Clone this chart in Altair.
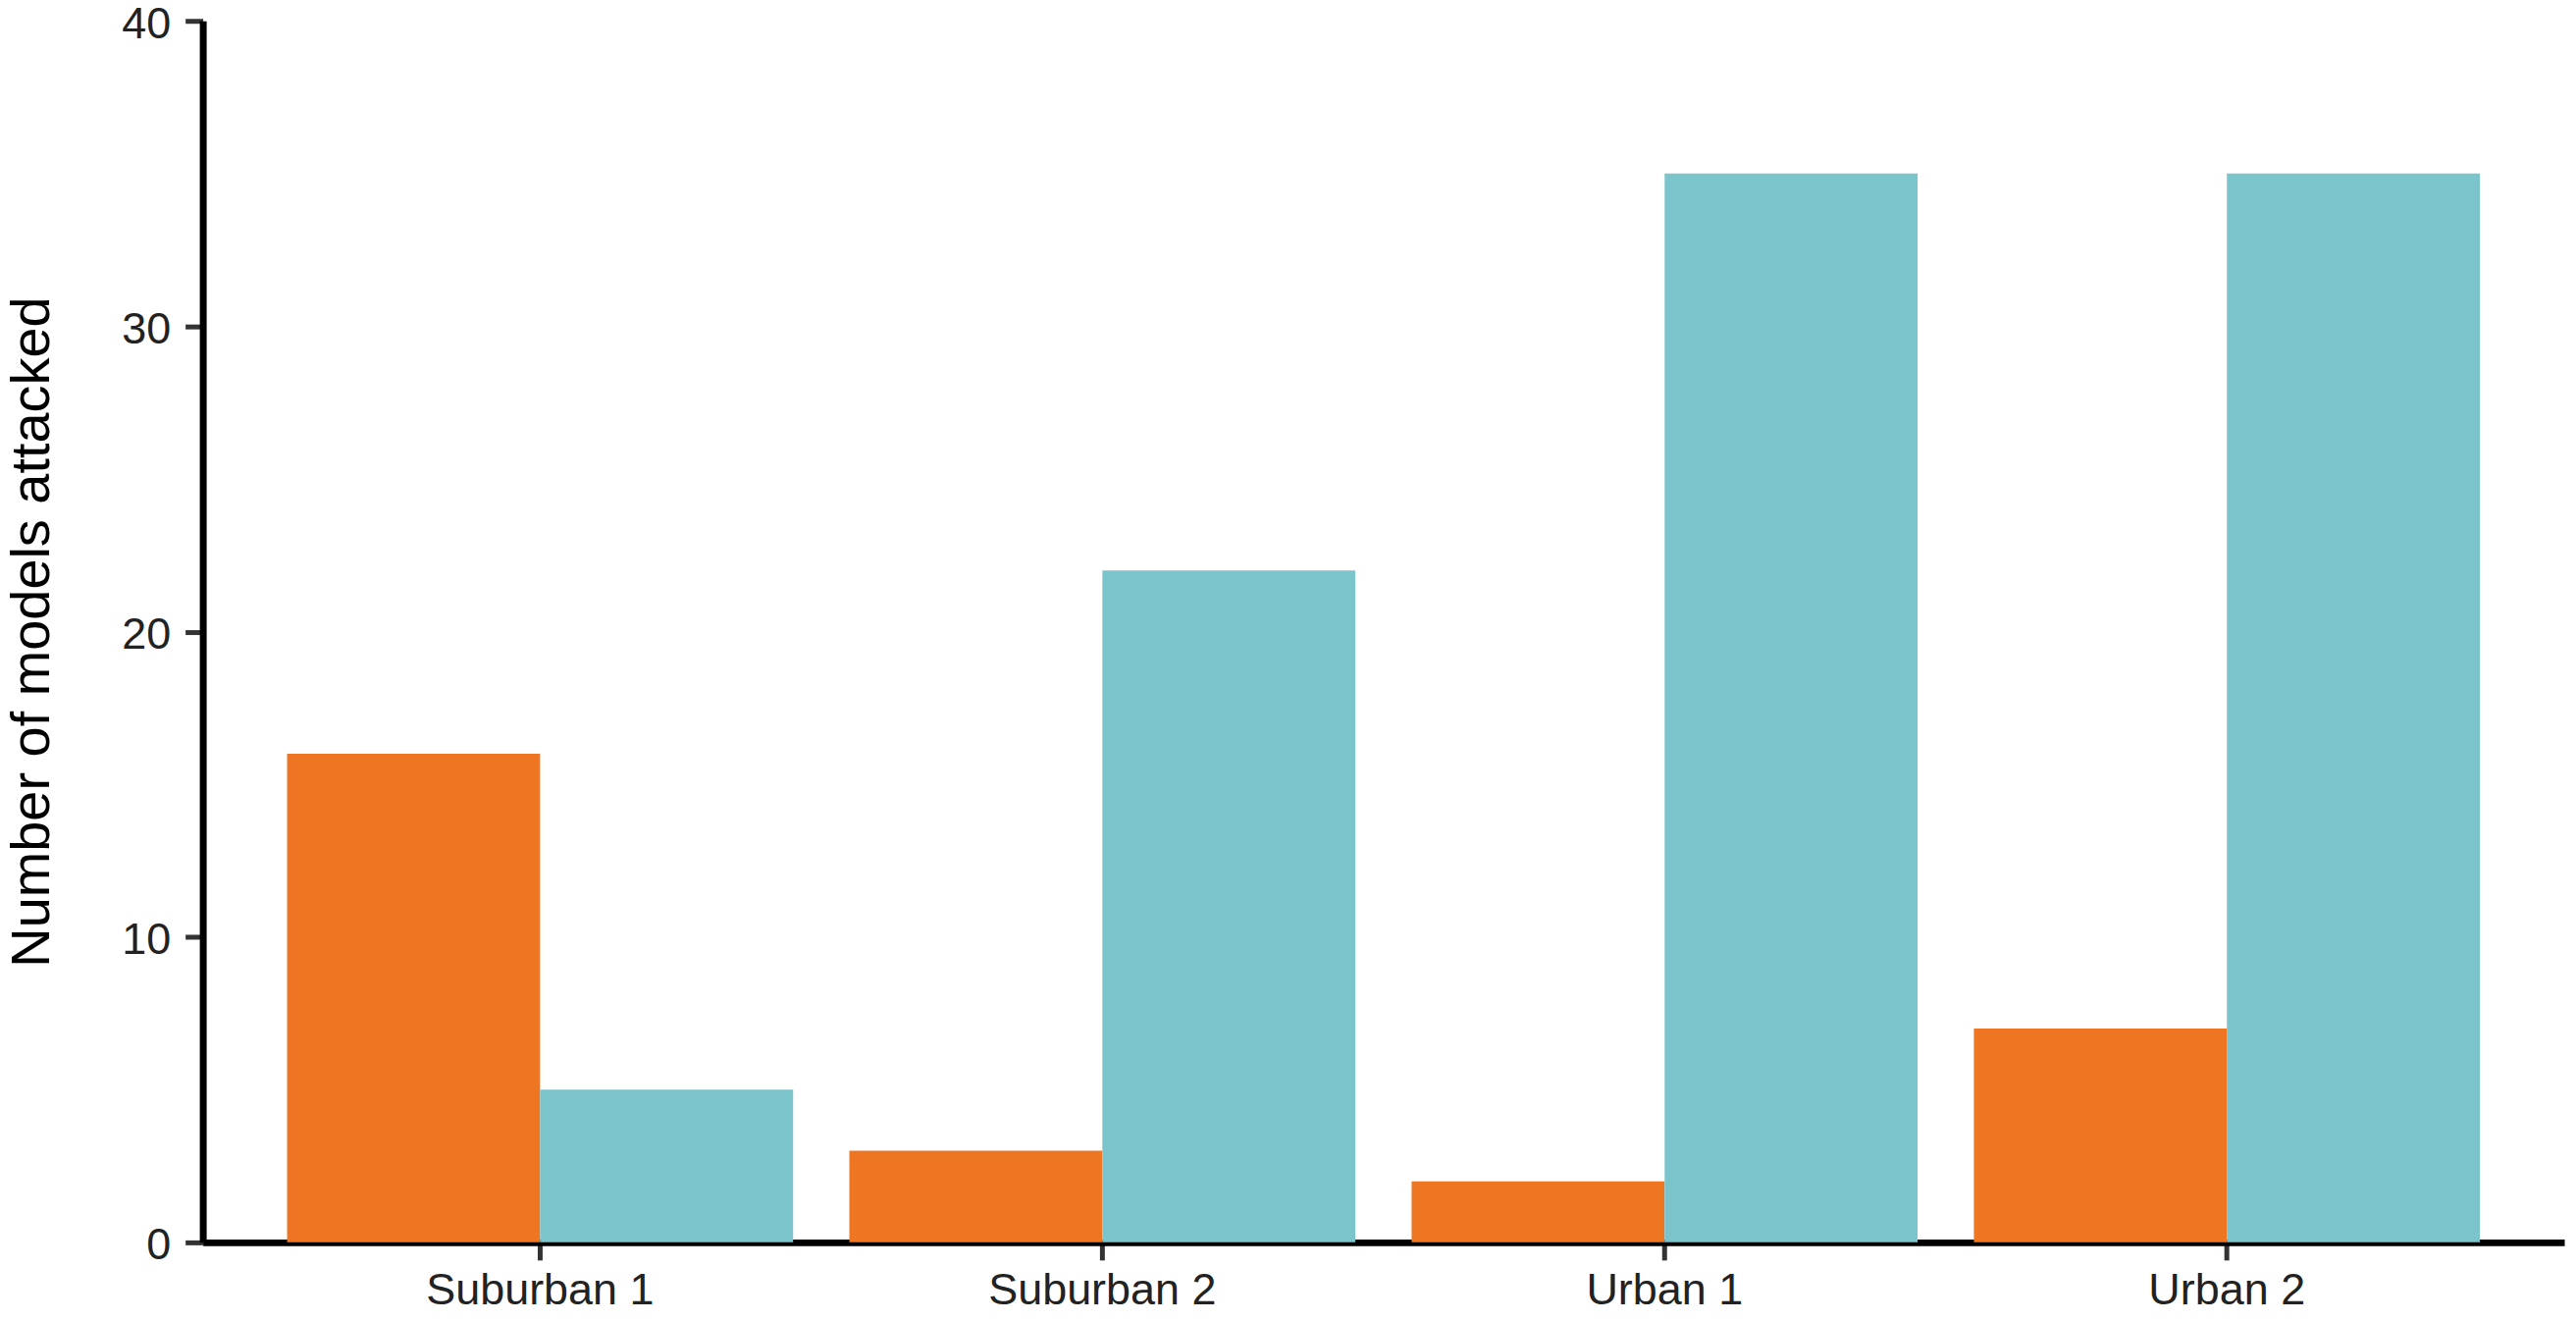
import altair as alt
import pandas as pd

categories = ["Suburban 1", "Suburban 2", "Urban 1", "Urban 2"]
series = ["Group A", "Group B"]
values_a = [16, 3, 2, 7]
values_b = [5, 22, 35, 35]
colors = ["#EE7622", "#7BC4CC"]
y_ticks = [0, 10, 20, 30, 40]

rows = []
for c, a, b in zip(categories, values_a, values_b):
    rows.append({"site": c, "group": series[0], "count": a})
    rows.append({"site": c, "group": series[1], "count": b})
df = pd.DataFrame(rows)

FONT = "Liberation Sans"

chart = alt.Chart(df).mark_bar().encode(
    x=alt.X("site:N", sort=categories,
            scale=alt.Scale(paddingInner=0.1, paddingOuter=0.15),
            axis=alt.Axis(title=None, labelAngle=0, labelFont=FONT, labelFontSize=45,
                          labelColor="#222222", labelPadding=9, labelLimit=0,
                          domainColor="#000000", domainWidth=7,
                          tickColor="#333333", tickWidth=5, tickSize=18)),
    xOffset=alt.XOffset("group:N", sort=series, scale=alt.Scale(paddingInner=0, paddingOuter=0)),
    y=alt.Y("count:Q", scale=alt.Scale(domain=[0, 40], nice=False),
            axis=alt.Axis(title="Number of models attacked", values=y_ticks,
                          titleFont=FONT, titleFontSize=56, titleFontWeight="normal",
                          titleColor="#000000", titleX=-157, titleY=623.5,
                          titleBaseline="alphabetic", titleAngle=270,
                          labelFont=FONT, labelFontSize=45, labelColor="#222222",
                          labelPadding=15, labelOffset=3, grid=False,
                          domainColor="#000000", domainWidth=7,
                          tickColor="#333333", tickWidth=5, tickSize=18)),
    color=alt.Color("group:N", sort=series,
                    scale=alt.Scale(domain=series, range=colors), legend=None),
).properties(
    width=2411, height=1247,
    background="white",
    autosize=alt.AutoSizeParams(type="none"),
    padding={"left": 199, "top": 12, "right": 4, "bottom": 78},
).configure_view(stroke=None)

chart.save("out.html", embed_options={"renderer": "svg", "actions": False})
